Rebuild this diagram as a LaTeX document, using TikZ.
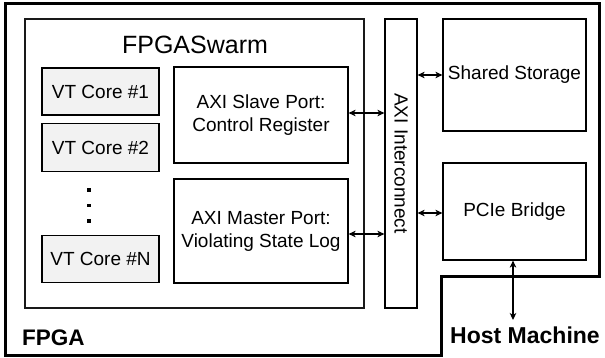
\documentclass[tikz,border=0pt]{standalone}
\usepackage{fontspec}
\setmainfont{Liberation Sans}
\usetikzlibrary{arrows.meta}
\definecolor{corefill}{RGB}{242,242,242}
\begin{document}
\begin{tikzpicture}[x=1pt,y=-1pt,
  txt/.style={font=\fontsize{19}{23}\selectfont, align=center},
  blk/.style={draw=black, line width=1.2pt, txt, inner sep=0pt},
  core/.style={blk, fill=corefill, minimum width=117pt, minimum height=47pt},
  biarrow/.style={line width=1.2pt, {Stealth[length=7pt,width=6.5pt,inset=2pt]}-{Stealth[length=7pt,width=6.5pt,inset=2pt]}},
  dotsq/.style={fill=black, minimum size=3.3pt, inner sep=0pt}
]
\useasboundingbox (0,0) rectangle (605,358);
% outer FPGA outline
\draw[line width=3pt, line join=miter] (5.5,4) -- (599,4) -- (599,276) -- (441,276) -- (441,355) -- (5.5,355) -- cycle;

\node[draw=black!90, line width=1.1pt, minimum width=339pt, minimum height=289pt] (swarm) at (194.5,163.5) {};
\node[font=\fontsize{25}{30}\selectfont] (swarmt) at (195,45) {FPGASwarm};

\node[core] (c1) at (100.5,91.5) {VT Core \#1};
\node[core, minimum height=48pt] (c2) at (100.5,147.5) {VT Core \#2};
\node[core] (cn) at (100.5,259) {VT Core \#N};
\node[dotsq] (d1) at (89,190) {};
\node[dotsq] (d2) at (89,205.5) {};
\node[dotsq] (d3) at (89,221) {};

\node[blk, minimum width=174pt, minimum height=96pt] (slave) at (261,115) {AXI Slave Port:\\Control Register};
\node[blk, minimum width=174pt, minimum height=104pt] (master) at (261,231) {AXI Master Port:\\Violating State Log};

\node[blk, minimum width=32pt, minimum height=289pt] (ic) at (401,163.5) {};
\node[txt, rotate=-90] (ict) at (ic.center) {AXI Interconnect};

\node[blk, minimum width=143pt, minimum height=112pt] (shared) at (514.5,75) {Shared Storage};
\node[blk, minimum width=143pt, minimum height=97pt] (pcie) at (514.5,211.5) {PCIe Bridge};

\node[font=\fontsize{22.5}{27}\bfseries\selectfont, inner sep=0pt, anchor=west] (fpga) at (22,338) {FPGA};
\node[font=\fontsize{23}{28}\bfseries\selectfont, inner sep=0pt] (host) at (525,335) {Host Machine};
\coordinate (hostin) at (513,320);

\draw[biarrow] ([yshift=2pt]slave.east) -- ([yshift=2pt]slave.east -| ic.west);
\draw[biarrow] ([yshift=-3pt]master.east) -- ([yshift=-3pt]master.east -| ic.west);
\draw[biarrow] (shared.west -| ic.east) -- (shared.west);
\draw[biarrow] ([yshift=-1.5pt]pcie.west -| ic.east) -- ([yshift=-1.5pt]pcie.west);
\draw[biarrow] (pcie.south -| hostin) -- (hostin);
\end{tikzpicture}
\end{document}
